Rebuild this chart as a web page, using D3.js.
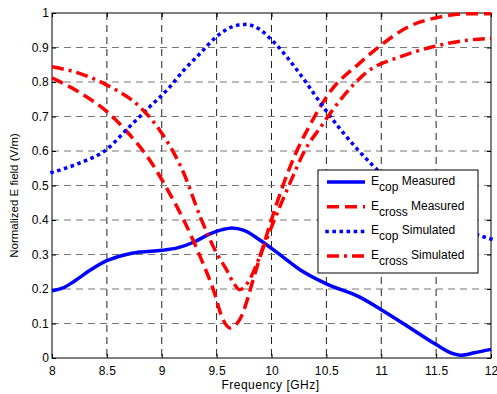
<!DOCTYPE html>
<meta charset="utf-8">
<head>
    <title>Normalized E field</title>
    <script src="https://d3js.org/d3.v7.min.js"></script>
</head>
<style>
    body { margin: 0; background: #fff; font-family: "Liberation Sans", Arial, sans-serif; }
    .tick text { font-size: 12px; fill: #000; letter-spacing: 0.2px; }
    .grid line { stroke-dasharray: 7,5; stroke-width: 1px; }
    .curve { fill: none; }
</style>
<body>
<script>
// frequency points (GHz) and values
var freqCopMeas  = [8, 8.1, 8.2, 8.35, 8.5, 8.65, 8.8, 9.0, 9.15, 9.3, 9.44, 9.55, 9.64, 9.75, 9.89, 10.1, 10.26, 10.5, 10.8, 11.0, 11.25, 11.5, 11.65, 11.72, 11.85, 12];
var copMeasured  = [0.195, 0.203, 0.222, 0.255, 0.282, 0.298, 0.307, 0.312, 0.32, 0.337, 0.36, 0.372, 0.377, 0.37, 0.343, 0.294, 0.256, 0.215, 0.177, 0.14, 0.09, 0.039, 0.013, 0.008, 0.015, 0.025];

var freqCrossMeas = [8, 8.25, 8.5, 8.7, 8.89, 9.07, 9.2, 9.35, 9.47, 9.56, 9.62, 9.71, 9.86, 9.95, 10.05, 10.17, 10.26, 10.35, 10.53, 10.8, 10.99, 11.26, 11.53, 11.78, 12];
var crossMeasured = [0.812, 0.77, 0.714, 0.65, 0.574, 0.478, 0.40, 0.294, 0.198, 0.11, 0.087, 0.111, 0.256, 0.35, 0.45, 0.555, 0.62, 0.675, 0.77, 0.854, 0.905, 0.962, 0.988, 0.998, 0.998];

var freqCopSim   = [8, 8.25, 8.5, 8.68, 8.89, 9.06, 9.2, 9.35, 9.5, 9.68, 9.76, 9.88, 10.02, 10.29, 10.46, 10.62, 10.92, 11.2, 11.5, 11.88, 12];
var copSimulated = [0.538, 0.565, 0.605, 0.662, 0.728, 0.781, 0.834, 0.883, 0.932, 0.964, 0.967, 0.955, 0.916, 0.81, 0.733, 0.666, 0.559, 0.48, 0.42, 0.357, 0.345];

var freqCrossSim   = [8, 8.25, 8.5, 8.8, 8.98, 9.2, 9.35, 9.5, 9.59, 9.65, 9.71, 9.8, 9.9, 10.0, 10.2, 10.3, 10.44, 10.65, 10.87, 11.17, 11.47, 11.78, 12];
var crossSimulated = [0.844, 0.825, 0.791, 0.728, 0.661, 0.536, 0.41, 0.304, 0.256, 0.22, 0.198, 0.227, 0.30, 0.38, 0.53, 0.60, 0.666, 0.757, 0.829, 0.873, 0.902, 0.921, 0.926];

var xTicks = [8, 8.5, 9, 9.5, 10, 10.5, 11, 11.5, 12];
var yTicks = [0, 0.1, 0.2, 0.3, 0.4, 0.5, 0.6, 0.7, 0.8, 0.9, 1];

var series = [
    { sub: "cop",   label: "Measured",  color: "#0000ff", dash: null,       cap: "butt",   f: freqCopMeas,   v: copMeasured },
    { sub: "cross", label: "Measured",  color: "#ff0000", dash: "12,6",     cap: "butt",   f: freqCrossMeas, v: crossMeasured },
    { sub: "cop",   label: "Simulated", color: "#0000ff", dash: "0.1,7",    cap: "square", f: freqCopSim,    v: copSimulated },
    { sub: "cross", label: "Simulated", color: "#ff0000", dash: "12,5,3,5", cap: "butt",   f: freqCrossSim,  v: crossSimulated }
];

var width = 497, height = 394;
var margin = { left: 52, right: 6, top: 13, bottom: 36 };
var w = width - margin.left - margin.right,
    h = height - margin.top - margin.bottom;

var svg = d3.select("body").append("svg")
    .attr("width", width)
    .attr("height", height);

var g = svg.append("g")
    .attr("transform", "translate(" + margin.left + "," + margin.top + ")");

var x = d3.scaleLinear().domain([8, 12]).range([0, w]);
var y = d3.scaleLinear().domain([0, 1]).range([h, 0]);

// grid
g.append("g").attr("class", "grid")
    .selectAll("line").data(xTicks.slice(1, -1)).enter().append("line")
    .attr("x1", d => x(d)).attr("x2", d => x(d))
    .attr("y1", 0).attr("y2", h)
    .attr("stroke", "#222");
g.append("g").attr("class", "grid")
    .selectAll("line").data(yTicks.slice(1, -1)).enter().append("line")
    .attr("y1", d => y(d)).attr("y2", d => y(d))
    .attr("x1", 0).attr("x2", w)
    .attr("stroke", "#777");

// axes, ticks inward on all four sides
var fmt = d => d3.format("")(d);
g.append("g").attr("transform", "translate(0," + h + ")")
    .call(d3.axisBottom(x).tickValues(xTicks).tickSizeInner(-4).tickSizeOuter(0).tickPadding(8).tickFormat(fmt));
g.append("g")
    .call(d3.axisLeft(y).tickValues(yTicks).tickSizeInner(-4).tickSizeOuter(0).tickPadding(3).tickFormat(fmt));
g.append("g")
    .call(d3.axisTop(x).tickValues(xTicks).tickSizeInner(-4).tickSizeOuter(0).tickFormat(""));
g.append("g").attr("transform", "translate(" + w + ",0)")
    .call(d3.axisRight(y).tickValues(yTicks).tickSizeInner(-4).tickSizeOuter(0).tickFormat(""));
g.selectAll(".domain").remove();
g.selectAll(".tick line").attr("stroke", "#000");

g.append("rect")
    .attr("width", w).attr("height", h)
    .attr("fill", "none").attr("stroke", "#000").attr("stroke-width", 1);

// curves
var line = d3.line().curve(d3.curveMonotoneX);
g.selectAll(".curve").data(series).enter().append("path")
    .attr("class", "curve")
    .attr("d", s => line(s.f.map((f, i) => [x(f), y(s.v[i])])))
    .attr("stroke", s => s.color)
    .attr("stroke-width", 3.5)
    .attr("stroke-linecap", s => s.cap)
    .attr("stroke-dasharray", s => s.dash);

// legend
var lg = g.append("g").attr("transform", "translate(" + (318 - margin.left) + "," + (170 - margin.top) + ")");
lg.append("rect").attr("width", 160).attr("height", 103)
    .attr("fill", "#fff").attr("stroke", "#000").attr("stroke-width", 1);
var rows = lg.selectAll(".row").data(series).enter().append("g")
    .attr("transform", (d, i) => "translate(0," + (12 + i * 24.7) + ")");
rows.append("line")
    .attr("x1", 9).attr("x2", 47).attr("y1", 0).attr("y2", 0)
    .attr("stroke", d => d.color).attr("stroke-width", 3.5)
    .attr("stroke-linecap", d => d.cap)
    .attr("stroke-dasharray", d => d.dash);
var txt = rows.append("text")
    .attr("x", 53).attr("y", 3)
    .style("font-size", "12px");
txt.append("tspan").text("E");
txt.append("tspan").attr("dy", 6).text(d => d.sub);
txt.append("tspan").attr("dy", -6).text(d => " " + d.label);

// axis labels
svg.append("text")
    .attr("x", margin.left + w / 2 - 1).attr("y", 389)
    .attr("text-anchor", "middle").style("font-size", "12px").style("letter-spacing", "0.5px")
    .text("Frequency [GHz]");
svg.append("text")
    .attr("transform", "translate(18," + (margin.top + h / 2 + 10) + ") rotate(-90)")
    .attr("text-anchor", "middle").style("font-size", "11.5px")
    .text("Normalized E field (V/m)");
</script>
</body>
</html>
